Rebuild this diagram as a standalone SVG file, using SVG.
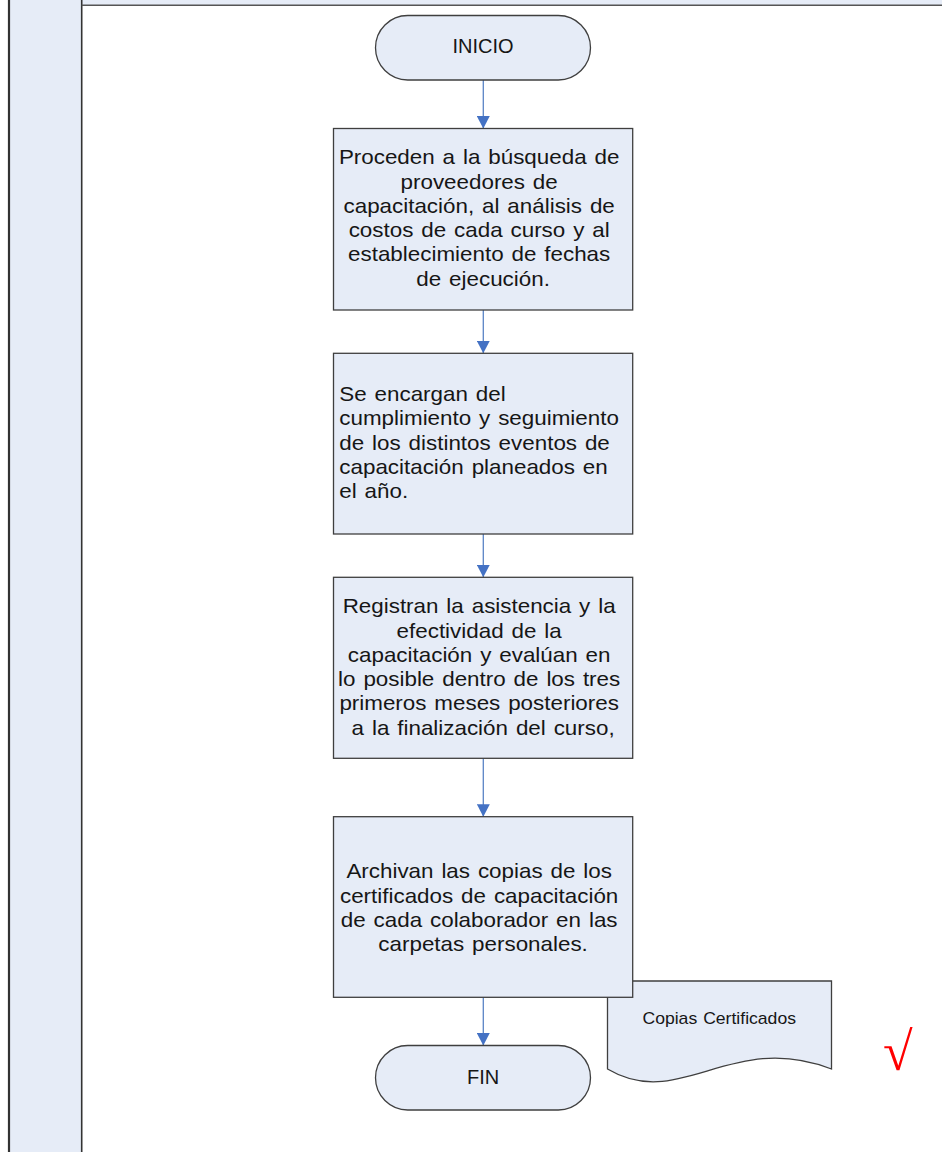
<svg xmlns="http://www.w3.org/2000/svg" width="942" height="1152" viewBox="0 0 942 1152">
<style>
.fill{fill:#E6ECF7}
.box{fill:#E6ECF7;stroke:#3F3F3F;stroke-width:1.3}
.conn{stroke:#5A84C6;stroke-width:1.3;fill:none}
.t{font-family:"Liberation Sans",Arial,sans-serif;font-size:20px;fill:#161616;word-spacing:1.5px}
.c{text-anchor:middle}
.s{font-size:16px;word-spacing:1px}
</style>
<defs>
<marker id="ah" markerWidth="13" markerHeight="13" refX="12.5" refY="6.5" orient="auto" markerUnits="userSpaceOnUse">
<path d="M0,0 L12.5,6.5 L0,13 z" fill="#4472C4"/>
</marker>
</defs>
<g id="frame">
<rect class="fill" x="9" y="0" width="73" height="1152"/>
<rect class="fill" x="82" y="0" width="860" height="5.3"/>
<line x1="9" y1="0" x2="9" y2="1152" stroke="#333" stroke-width="2.2"/>
<line x1="81.7" y1="0" x2="81.7" y2="1152" stroke="#333" stroke-width="1.6"/>
<line x1="81.7" y1="5.3" x2="942" y2="5.3" stroke="#555" stroke-width="1.4"/>
</g>
<g id="connectors">
<line class="conn" x1="483.3" y1="80" x2="483.3" y2="128.5" marker-end="url(#ah)"/>
<line class="conn" x1="483.3" y1="310" x2="483.3" y2="353.3" marker-end="url(#ah)"/>
<line class="conn" x1="483.3" y1="534" x2="483.3" y2="577.3" marker-end="url(#ah)"/>
<line class="conn" x1="483.3" y1="758.3" x2="483.3" y2="816.7" marker-end="url(#ah)"/>
<line class="conn" x1="483.3" y1="997.3" x2="483.3" y2="1045.5" marker-end="url(#ah)"/>
</g>
<g id="inicio">
<rect class="box" x="375.5" y="15.5" width="215" height="64.5" rx="32.2"/>
<text class="t c" x="483.1" y="53.3">INICIO</text>
</g>
<g id="p1">
<rect class="box" x="333.5" y="128.5" width="299.2" height="181.5"/>
<text class="t c" transform="translate(483.1 0) scale(1.12 1)">
<tspan x="0" y="164.3">Proceden a la búsqueda de</tspan>
<tspan x="0" y="188.6">proveedores de</tspan>
<tspan x="0" y="212.9">capacitación, al análisis de</tspan>
<tspan x="0" y="237.2">costos de cada curso y al</tspan>
<tspan x="0" y="261.5">establecimiento de fechas</tspan>
<tspan x="0" y="285.8">de ejecución.</tspan>
</text>
</g>
<g id="p2">
<rect class="box" x="333.5" y="353.3" width="299.2" height="180.7"/>
<text class="t" transform="translate(339.3 0) scale(1.12 1)">
<tspan x="0" y="401">Se encargan del</tspan>
<tspan x="0" y="425.3">cumplimiento y seguimiento</tspan>
<tspan x="0" y="449.6">de los distintos eventos de</tspan>
<tspan x="0" y="473.9">capacitación planeados en</tspan>
<tspan x="0" y="498.2">el año.</tspan>
</text>
</g>
<g id="p3">
<rect class="box" x="333.5" y="577.3" width="299.2" height="181"/>
<text class="t c" transform="translate(483.1 0) scale(1.12 1)">
<tspan x="0" y="613.3">Registran la asistencia y la</tspan>
<tspan x="0" y="637.6">efectividad de la</tspan>
<tspan x="0" y="661.9">capacitación y evalúan en</tspan>
<tspan x="0" y="686.2">lo posible dentro de los tres</tspan>
<tspan x="0" y="710.5">primeros meses posteriores</tspan>
<tspan x="0" y="734.8">a la finalización del curso,</tspan>
</text>
</g>
<g id="doc">
<path class="box" d="M607.5,981 L831.5,981 L831.5,1069 C730,1030 680,1112 607.5,1069 Z"/>
<text class="t c s" transform="translate(719.2 0) scale(1.1 1)" x="0" y="1024">Copias Certificados</text>
</g>
<g id="p4">
<rect class="box" x="333.5" y="816.7" width="299.2" height="180.6"/>
<text class="t c" transform="translate(483.1 0) scale(1.12 1)">
<tspan x="0" y="878.3">Archivan las copias de los</tspan>
<tspan x="0" y="902.6">certificados de capacitación</tspan>
<tspan x="0" y="926.9">de cada colaborador en las</tspan>
<tspan x="0" y="951.2">carpetas personales.</tspan>
</text>
</g>
<g id="fin">
<rect class="box" x="375.5" y="1045.5" width="215" height="64.5" rx="32.2"/>
<text class="t c" x="483.1" y="1084">FIN</text>
</g>
<g id="check">
<text x="883" y="1070" font-family="Liberation Serif, serif" font-size="54" fill="#FF0000">√</text>
</g>
</svg>
